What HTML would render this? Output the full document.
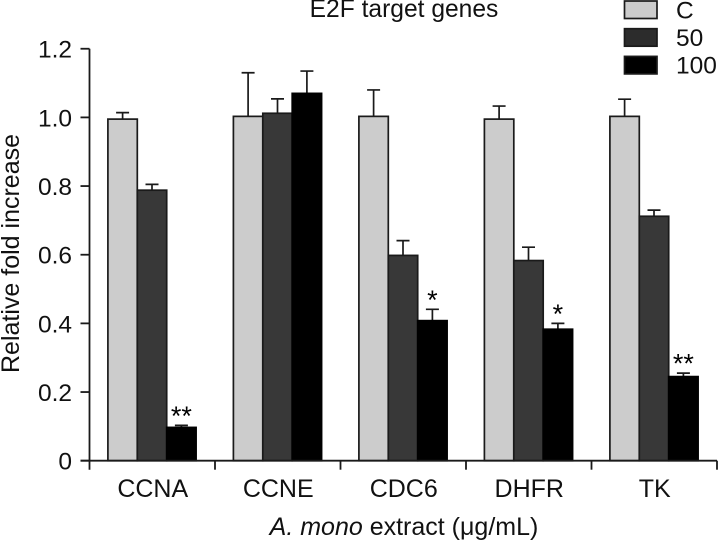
<!DOCTYPE html>
<html lang="en">
<head>
<meta charset="utf-8">
<title>E2F target genes</title>
<style>
html,body{margin:0;padding:0;background:#fff;}
svg{display:block;}
text{font-family:"Liberation Sans",Arial,sans-serif;fill:#111;}
</style>
</head>
<body>
<svg id="chart" width="718" height="541" viewBox="0 0 718 541" xmlns="http://www.w3.org/2000/svg">
<g id="title-layer"></g>
<g id="bars"></g>
<g id="axes"></g>
<g id="legend"></g>
</svg>
<script>
const categories = ['CCNA', 'CCNE', 'CDC6', 'DHFR', 'TK'];
const seriesNames = ['C', '50', '100'];
const controlValues = [0.995, 1.003, 1.003, 0.995, 1.003];
const dose50Values = [0.788, 1.012, 0.598, 0.583, 0.712];
const dose100Values = [0.097, 1.070, 0.408, 0.383, 0.245];
const controlErrors = [0.019, 0.127, 0.077, 0.038, 0.050];
const dose50Errors = [0.017, 0.042, 0.043, 0.039, 0.018];
const dose100Errors = [0.006, 0.065, 0.033, 0.017, 0.010];
const dose100Stars = ['**', '', '*', '*', '**'];
const yTicks = [0, 0.2, 0.4, 0.6, 0.8, 1.0, 1.2];
const yTickLabels = ['0', '0.2', '0.4', '0.6', '0.8', '1.0', '1.2'];

const NS = 'http://www.w3.org/2000/svg';
const seriesValues = [controlValues, dose50Values, dose100Values];
const seriesErrors = [controlErrors, dose50Errors, dose100Errors];
const seriesFills = ['#cccccc', '#383838', '#000000'];
const axisX = 89.5, axisY = 460.7, unitH = 343.3, catW = 125.5, barW = 29.4, barOffset = 18.4;
const yScale = v => axisY - v * unitH;
const catX = i => axisX + i * catW;
const barX = (c, s) => catX(c) + barOffset + s * barW;

function make(tag, attrs, parent, content) {
  const el = document.createElementNS(NS, tag);
  for (const k in attrs) el.setAttribute(k, attrs[k]);
  if (content !== undefined) el.textContent = content;
  parent.appendChild(el);
  return el;
}

const titleLayer = document.getElementById('title-layer');
const barsLayer = document.getElementById('bars');
const axesLayer = document.getElementById('axes');
const legendLayer = document.getElementById('legend');

const titleEl = make('text', {x: 404, y: 17, 'font-size': 24.6, 'text-anchor': 'middle'}, titleLayer, 'E2F target genes');



categories.forEach((cat, c) => {
  seriesValues.forEach((vals, s) => {
    const x = barX(c, s), top = yScale(vals[c]), cx = x + barW / 2;
    const errTop = yScale(vals[c] + seriesErrors[s][c]);
    const errEl = make('path', {
      d: 'M' + cx + ' ' + top + 'V' + errTop + 'M' + (cx - 6.5) + ' ' + errTop + 'H' + (cx + 6.5),
      stroke: '#1a1a1a', 'stroke-width': 1.7, fill: 'none'
    }, barsLayer);
    
    
    const bar = make('rect', {
      x: x, y: top, width: barW, height: axisY - top,
      fill: seriesFills[s], stroke: s === 2 ? '#000' : '#1a1a1a', 'stroke-width': 1.7
    }, barsLayer);
    
    
  });
  const star = dose100Stars[c];
  if (star) {
    const sx = barX(c, 2) + barW / 2;
    const sy = yScale(dose100Values[c] + dose100Errors[c]) - 0.5;
    const starEl = make('text', {x: sx, y: sy, 'font-size': 27, 'text-anchor': 'middle'}, barsLayer, star);
    
    
    starEl.style.fill = '#000';
  }
  const label = make('text', {x: catX(c) + catW / 2 + 0.5, y: 497, 'font-size': 25, 'text-anchor': 'middle'}, axesLayer, cat);
  
  
});

const yAxisLine = make('path', {d: 'M' + axisX + ' ' + yScale(1.2) + 'V' + (axisY + 9), stroke: '#1a1a1a', 'stroke-width': 1.8, fill: 'none'}, axesLayer);


const xAxisLine = make('path', {d: 'M' + (axisX - 9) + ' ' + axisY + 'H' + catX(categories.length), stroke: '#1a1a1a', 'stroke-width': 1.8, fill: 'none'}, axesLayer);



yTicks.forEach((t, i) => {
  const y = yScale(t);
  const tick = make('path', {d: 'M' + (axisX - 9) + ' ' + y + 'H' + axisX, stroke: '#1a1a1a', 'stroke-width': 1.8}, axesLayer);
  
  
  const lab = make('text', {x: 72, y: y + 9, 'font-size': 24.5, 'text-anchor': 'end'}, axesLayer, yTickLabels[i]);
  
  
});

categories.forEach((cat, c) => {
  const tick = make('path', {d: 'M' + catX(c + 1) + ' ' + axisY + 'V' + (axisY + 9), stroke: '#1a1a1a', 'stroke-width': 1.8}, axesLayer);
  
  
});

const yTitle = make('text', {transform: 'translate(19,253.5) rotate(-90)', 'font-size': 25, 'text-anchor': 'middle'}, axesLayer, 'Relative fold increase');



const xTitle = make('text', {x: 404, y: 535, 'font-size': 25, 'text-anchor': 'middle'}, axesLayer);


make('tspan', {'font-style': 'italic'}, xTitle, 'A. mono');
make('tspan', {}, xTitle, ' extract (\u03BCg/mL)');

seriesNames.forEach((name, s) => {
  const y = 1 + s * 27.7;
  const swatch = make('rect', {x: 624.5, y: y, width: 32.5, height: 17.5, fill: s === 1 ? '#2c2c2c' : seriesFills[s], stroke: '#1a1a1a', 'stroke-width': 1.7}, legendLayer);
  
  
  const txt = make('text', {x: 676, y: y + 17.3, 'font-size': 24.5}, legendLayer, name);
  
  
});
</script>
</body>
</html>
